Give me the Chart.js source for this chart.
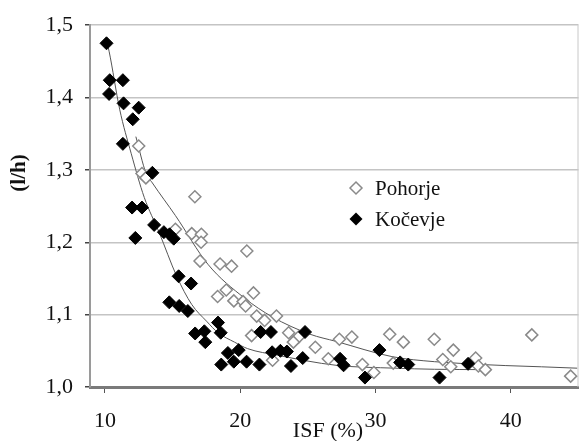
<!DOCTYPE html>
<html>
<head>
<meta charset="utf-8">
<title>ISF scatter</title>
<script src="https://cdn.jsdelivr.net/npm/chart.js"></script>
<style>
  html, body { margin: 0; padding: 0; background: #fff; }
</style>
</head>
<body>
<canvas id="chart" width="586" height="441"></canvas>
<script>
// Pohorje (open diamonds)
const pohorjeX = [12.50, 12.74, 13.03, 16.65, 15.21, 16.42, 17.13, 17.11, 17.03, 18.51,
  19.36, 20.49, 18.33, 18.97, 19.53, 20.21, 20.40, 20.98, 21.22, 22.68,
  21.80, 20.84, 23.58, 24.31, 23.93, 25.55, 27.33, 28.25, 26.51, 22.39,
  29.03, 29.88, 31.05, 32.06, 31.31, 34.34, 35.75, 34.97, 35.56, 37.40,
  37.60, 38.12, 41.55, 44.42];
const pohorjeY = [1.333, 1.295, 1.289, 1.263, 1.218, 1.212, 1.211, 1.200, 1.174, 1.170,
  1.167, 1.188, 1.125, 1.134, 1.119, 1.118, 1.112, 1.130, 1.098, 1.098,
  1.092, 1.071, 1.075, 1.069, 1.062, 1.055, 1.066, 1.069, 1.039, 1.037,
  1.031, 1.020, 1.073, 1.062, 1.033, 1.066, 1.051, 1.038, 1.028, 1.040,
  1.029, 1.024, 1.072, 1.015];

// Kočevje (filled diamonds)
const kocevjeX = [10.12, 10.36, 11.33, 10.31, 11.38, 12.50, 12.06, 11.33, 13.51, 12.01,
  12.74, 12.25, 13.64, 14.36, 14.78, 15.09, 15.45, 16.37, 14.76, 15.49,
  16.13, 16.67, 17.35, 17.42, 18.36, 18.56, 19.09, 19.89, 19.53, 20.47,
  18.60, 21.42, 21.51, 22.27, 24.79, 22.36, 22.97, 23.45, 24.62, 23.75,
  27.38, 27.64, 29.22, 30.29, 31.82, 32.42, 34.73, 36.84];
const kocevjeY = [1.475, 1.424, 1.424, 1.405, 1.392, 1.386, 1.370, 1.336, 1.296, 1.248,
  1.248, 1.206, 1.224, 1.214, 1.211, 1.205, 1.153, 1.143, 1.117, 1.112,
  1.105, 1.074, 1.077, 1.062, 1.089, 1.075, 1.047, 1.051, 1.035, 1.035,
  1.031, 1.031, 1.076, 1.076, 1.076, 1.048, 1.050, 1.049, 1.040, 1.029,
  1.039, 1.030, 1.013, 1.051, 1.034, 1.031, 1.013, 1.032];

// trend curves
const pohorjeFitX = [12.29, 13.03, 13.51, 15.21, 17.64, 20.31, 22.36, 25.15, 27.09, 31.21, 34.36, 44.9];
const pohorjeFitY = [1.346, 1.296, 1.282, 1.237, 1.169, 1.123, 1.097, 1.073, 1.063, 1.042, 1.035, 1.026];
const kocevjeFitX = [10.07, 10.31, 11.09, 11.94, 12.91, 14.0, 15.31, 16.42, 17.51, 18.36, 19.58, 20.55, 22.73, 27.09, 31.45, 34.36, 38.0];
const kocevjeFitY = [1.482, 1.464, 1.384, 1.323, 1.262, 1.214, 1.153, 1.114, 1.091, 1.075, 1.062, 1.053, 1.044, 1.030, 1.026, 1.0245, 1.024];

const xTicks = [10, 20, 30, 40];
const yTicks = [1.0, 1.1, 1.2, 1.3, 1.4, 1.5];
const yTickLabels = ['1,0', '1,1', '1,2', '1,3', '1,4', '1,5'];
const seriesNames = ['Pohorje', 'Kočevje'];

const FONT = '"Liberation Serif", "Times New Roman", serif';

function toPoints(xs, ys) {
    return xs.map((x, i) => ({ x: x, y: ys[i] }));
}

function diamond(ctx, x, y, r) {
    ctx.beginPath();
    ctx.moveTo(x - r, y);
    ctx.lineTo(x, y - r);
    ctx.lineTo(x + r, y);
    ctx.lineTo(x, y + r);
    ctx.closePath();
}

// axis titles, legend and the right frame line
const decorations = {
    id: 'decorations',
    beforeDatasetsDraw(chart) {
        const { ctx, chartArea } = chart;
        ctx.save();
        ctx.strokeStyle = '#c8c8c8';
        ctx.lineWidth = 1;
        ctx.beginPath();
        ctx.moveTo(chartArea.right - 0.5, chartArea.top);
        ctx.lineTo(chartArea.right - 0.5, chartArea.bottom);
        ctx.stroke();
        ctx.restore();
    },
    afterDraw(chart) {
        const ctx = chart.ctx;
        ctx.save();
        ctx.fillStyle = '#111';
        ctx.font = '22px ' + FONT;
        ctx.textAlign = 'center';
        ctx.textBaseline = 'middle';
        ctx.fillText('ISF (%)', 328, 431);

        ctx.save();
        ctx.translate(20, 173);
        ctx.rotate(-Math.PI / 2);
        ctx.font = 'bold 21px ' + FONT;
        ctx.fillText('(l/h)', 0, 0);
        ctx.restore();

        // legend
        diamond(ctx, 356, 188, 6);
        ctx.fillStyle = '#fff';
        ctx.fill();
        ctx.strokeStyle = '#8a8a8a';
        ctx.lineWidth = 1.5;
        ctx.stroke();
        diamond(ctx, 356, 219, 6.5);
        ctx.fillStyle = '#000';
        ctx.fill();

        ctx.fillStyle = '#111';
        ctx.font = '21px ' + FONT;
        ctx.textAlign = 'left';
        ctx.fillText(seriesNames[0], 375, 189);
        ctx.fillText(seriesNames[1], 375, 220);
        ctx.restore();
    }
};

new Chart(document.getElementById('chart'), {
    type: 'scatter',
    data: {
        datasets: [
            {
                label: seriesNames[1],
                data: toPoints(kocevjeX, kocevjeY),
                pointStyle: 'rectRot',
                pointRadius: 6.5,
                backgroundColor: '#000',
                borderColor: '#000',
                borderWidth: 1
            },
            {
                label: seriesNames[0],
                data: toPoints(pohorjeX, pohorjeY),
                pointStyle: 'rectRot',
                pointRadius: 6,
                backgroundColor: '#fff',
                borderColor: '#8a8a8a',
                borderWidth: 1.5
            },
            {
                label: 'fit Pohorje',
                type: 'line',
                data: toPoints(pohorjeFitX, pohorjeFitY),
                borderColor: '#555',
                borderWidth: 1,
                pointRadius: 0,
                cubicInterpolationMode: 'monotone',
                fill: false
            },
            {
                label: 'fit Kočevje',
                type: 'line',
                data: toPoints(kocevjeFitX, kocevjeFitY),
                borderColor: '#555',
                borderWidth: 1,
                pointRadius: 0,
                cubicInterpolationMode: 'monotone',
                fill: false
            }
        ]
    },
    options: {
        responsive: false,
        animation: false,
        layout: { padding: { top: 20, right: 1, left: 0, bottom: 0 } },
        plugins: {
            legend: { display: false },
            tooltip: { enabled: false }
        },
        scales: {
            x: {
                type: 'linear',
                min: 8.9,
                max: 45,
                afterBuildTicks: scale => { scale.ticks = xTicks.map(v => ({ value: v })); },
                afterFit: scale => { scale.height = 54; },
                border: { color: '#7a7a7a', width: 3 },
                grid: { drawOnChartArea: false, drawTicks: true, tickLength: 6, color: '#555' },
                ticks: {
                    color: '#111',
                    padding: 15,
                    font: { family: FONT, size: 22 },
                    maxRotation: 0
                }
            },
            y: {
                min: 1.0,
                max: 1.5,
                afterBuildTicks: scale => { scale.ticks = yTicks.map(v => ({ value: v })); },
                afterFit: scale => { scale.width = 90; },
                border: { color: '#9a9a9a', width: 2 },
                grid: { color: '#c4c4c4', lineWidth: 1.5, tickLength: 5, tickColor: '#444' },
                ticks: {
                    color: '#111',
                    padding: 12,
                    font: { family: FONT, size: 22 },
                    callback: (value, i) => yTickLabels[i]
                }
            }
        }
    },
    plugins: [decorations]
});
</script>
</body>
</html>
